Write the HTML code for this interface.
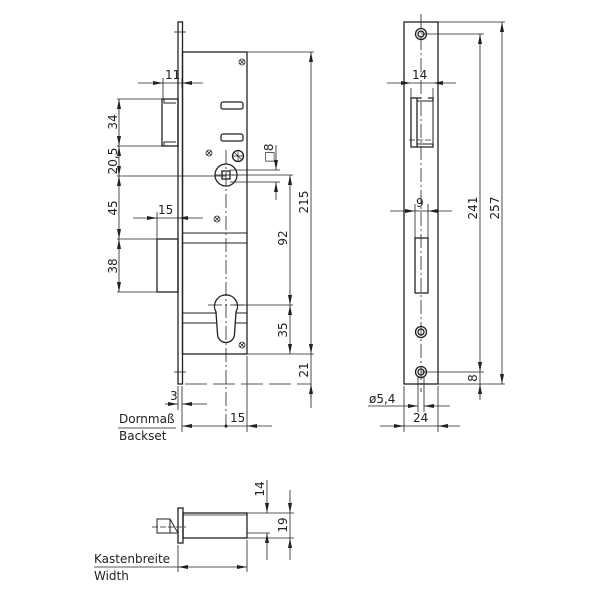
<!DOCTYPE html>
<html><head><meta charset="utf-8"><style>html,body{margin:0;padding:0;background:#fff}svg{display:block}text{font-family:"DejaVu Sans","Liberation Sans",sans-serif;font-size:12px;fill:#222}</style></head><body>
<svg width="600" height="600" viewBox="0 0 600 600" xmlns="http://www.w3.org/2000/svg">
<defs>
<marker id="a" viewBox="0 0 10 6" refX="10" refY="3" markerWidth="10" markerHeight="6" orient="auto-start-reverse" markerUnits="userSpaceOnUse"><path d="M0,1 L10,3 L0,5 z" fill="#222"/></marker>
</defs>
<g stroke="#222" fill="none" stroke-width="1.3">
<rect x="178" y="22" width="4.5" height="362"/>
<rect x="182.5" y="52" width="64.5" height="302"/>
<line x1="174" y1="32" x2="186" y2="32" stroke-width="0.8"/>
<line x1="174" y1="372" x2="186" y2="372" stroke-width="0.8"/>
<rect x="162" y="99" width="16" height="47"/>
<path d="M164,99 V103 H176 M164,146 V142 H176" stroke-width="1"/>
<rect x="157" y="239" width="21" height="53"/>
<path d="M183,233 H247 M183,243 H247 M183,313 H247 M183,323 H247" stroke-width="0.9"/>
<rect x="221" y="102" width="22" height="7" rx="2"/>
<rect x="221" y="134" width="22" height="7" rx="2"/>
<circle cx="226" cy="175" r="11"/>
<rect x="222" y="171" width="8" height="8"/>
<circle cx="238" cy="156" r="5.5"/>
<path d="M233,156 H243 M238,151 V161 M234,152 L242,160" stroke-width="0.7"/>
<path d="M216,312 A11.5,11.5 0 1 1 236,312 L234.5,334 A8.5,8.5 0 0 1 217.5,334 Z" fill="#fff"/>
</g>
<g stroke="#222" fill="none" stroke-width="0.8">
<circle cx="242" cy="62" r="3"/><path d="M240,60 L244,64 M244,60 L240,64"/>
<circle cx="209" cy="153" r="3"/><path d="M207,151 L211,155 M211,151 L207,155"/>
<circle cx="217" cy="219" r="3"/><path d="M215,217 L219,221 M219,217 L215,221"/>
<circle cx="242" cy="345" r="3"/><path d="M240,343 L244,347 M244,343 L240,347"/>
<path d="M226,150 V430 M208,305 H246 M215,175 H238" stroke-dasharray="14,3,2,3"/>
<path d="M185,384 H311" stroke-dasharray="22,6"/>
<path d="M117,99 H163 M117,146 H163 M117,176 H226 M117,239 H157 M117,292 H157"/>
<path d="M247,52 H314 M234,305 H293 M226,175 H293 M230,170 H280 M230,182 H280 M247,354 H314"/>
<path d="M163,78 V99 M182,78 V88 M157,212 V239 M178,212 V224"/>
<path d="M178,386 V410 M182,386 V432 M247,356 V432"/>
<line x1="119" y1="99" x2="119" y2="146" marker-start="url(#a)" marker-end="url(#a)"/>
<line x1="119" y1="146" x2="119" y2="176" marker-start="url(#a)" marker-end="url(#a)"/>
<line x1="119" y1="176" x2="119" y2="239" marker-start="url(#a)" marker-end="url(#a)"/>
<line x1="119" y1="239" x2="119" y2="292" marker-start="url(#a)" marker-end="url(#a)"/>
<line x1="138" y1="83" x2="163" y2="83" marker-end="url(#a)"/><line x1="203" y1="83" x2="182" y2="83" marker-end="url(#a)"/><line x1="163" y1="83" x2="182" y2="83"/>
<line x1="133" y1="218" x2="157" y2="218" marker-end="url(#a)"/><line x1="203" y1="218" x2="178" y2="218" marker-end="url(#a)"/><line x1="157" y1="218" x2="178" y2="218"/>
<line x1="311" y1="52" x2="311" y2="354" marker-start="url(#a)" marker-end="url(#a)"/>
<line x1="311" y1="354" x2="311" y2="408"/><line x1="311" y1="398" x2="311" y2="384" marker-end="url(#a)"/>
<line x1="290" y1="175" x2="290" y2="305" marker-start="url(#a)" marker-end="url(#a)"/>
<line x1="290" y1="305" x2="290" y2="354" marker-start="url(#a)" marker-end="url(#a)"/>
<line x1="276" y1="145" x2="276" y2="170" marker-end="url(#a)"/><line x1="276" y1="200" x2="276" y2="182" marker-end="url(#a)"/>
<line x1="165" y1="404" x2="178" y2="404" marker-end="url(#a)"/><line x1="207" y1="404" x2="182" y2="404" marker-end="url(#a)"/>
<line x1="182" y1="426" x2="226" y2="426" marker-start="url(#a)"/><line x1="226" y1="426" x2="247" y2="426"/><line x1="272" y1="426" x2="247" y2="426" marker-end="url(#a)"/>
<line x1="118" y1="428" x2="176" y2="428"/>
</g>
<circle cx="226" cy="426" r="1.5" fill="#222"/>
<g>
<text x="165" y="79">11</text>
<text x="158" y="214">15</text>
<text x="230" y="422">15</text>
<text x="170" y="400">3</text>
<text transform="translate(117,122) rotate(-90)" text-anchor="middle">34</text>
<text transform="translate(117,161) rotate(-90)" text-anchor="middle">20,5</text>
<text transform="translate(117,208) rotate(-90)" text-anchor="middle">45</text>
<text transform="translate(117,266) rotate(-90)" text-anchor="middle">38</text>
<text transform="translate(308,202) rotate(-90)" text-anchor="middle">215</text>
<text transform="translate(308,370) rotate(-90)" text-anchor="middle">21</text>
<text transform="translate(287,238) rotate(-90)" text-anchor="middle">92</text>
<text transform="translate(287,330) rotate(-90)" text-anchor="middle">35</text>
<text transform="translate(273,153) rotate(-90)" text-anchor="middle">□8</text>
<text x="119" y="423">Dornmaß</text>
<text x="119" y="440">Backset</text>
</g>
<g stroke="#222" fill="none" stroke-width="1.3">
<rect x="404" y="22" width="34" height="362"/>
<rect x="411" y="98" width="6" height="49"/>
<path d="M417,98 V101 H433 V144 H417 M417,101 V144" stroke-width="1"/>
<path d="M417,98 H421 M428,98 H433 V101 M417,147 H433 V144"/>
<rect x="415" y="238" width="13" height="55"/>
<circle cx="421" cy="34" r="5.5"/><circle cx="421" cy="34" r="3"/>
<circle cx="421" cy="332" r="5.5"/><circle cx="421" cy="332" r="3"/>
<circle cx="421" cy="372" r="5.5"/><circle cx="421" cy="372" r="3"/>
</g>
<g stroke="#222" fill="none" stroke-width="0.8">
<path d="M421,14 V392" stroke-dasharray="14,3,2,3"/>
<path d="M409,140 H433" stroke-dasharray="6,2"/>
<path d="M438,22 H505 M421,34 H484 M421,372 H484 M438,384 H505"/>
<path d="M404,75 V88 M438,75 V88 M411,88 V98 M433,88 V98 M404,204 V216 M438,204 V216 M415,204 V238 M428,204 V238"/>
<path d="M404,386 V432 M438,386 V432 M418,377 V412 M424,377 V412"/>
<line x1="387" y1="83" x2="411" y2="83" marker-end="url(#a)"/><line x1="456" y1="83" x2="433" y2="83" marker-end="url(#a)"/><line x1="411" y1="83" x2="433" y2="83"/>
<line x1="390" y1="211" x2="415" y2="211" marker-end="url(#a)"/><line x1="452" y1="211" x2="428" y2="211" marker-end="url(#a)"/><line x1="415" y1="211" x2="428" y2="211"/>
<line x1="480" y1="34" x2="480" y2="372" marker-start="url(#a)" marker-end="url(#a)"/>
<line x1="480" y1="372" x2="480" y2="400"/><line x1="480" y1="396" x2="480" y2="384" marker-end="url(#a)"/>
<line x1="502" y1="22" x2="502" y2="384" marker-start="url(#a)" marker-end="url(#a)"/>
<line x1="368" y1="406" x2="418" y2="406" marker-end="url(#a)"/><line x1="450" y1="406" x2="424" y2="406" marker-end="url(#a)"/>
<line x1="380" y1="426" x2="404" y2="426" marker-end="url(#a)"/><line x1="460" y1="426" x2="438" y2="426" marker-end="url(#a)"/><line x1="404" y1="426" x2="438" y2="426"/>
</g>
<text x="412" y="79">14</text>
<text x="416" y="207">9</text>
<text x="413" y="422">24</text>
<text x="369" y="403">ø5,4</text>
<text transform="translate(477,208) rotate(-90)" text-anchor="middle">241</text>
<text transform="translate(499,208) rotate(-90)" text-anchor="middle">257</text>
<text transform="translate(477,378) rotate(-90)" text-anchor="middle">8</text>
<g stroke="#222" fill="none" stroke-width="1.3">
<rect x="178" y="508" width="5" height="35"/>
<rect x="183" y="513" width="64" height="25"/>
<path d="M157,519 H170 L178,533 H157 Z M170,519 V533" stroke-width="1"/>
</g>
<g stroke="#222" fill="none" stroke-width="0.8">
<path d="M183,515 H247" />
<path d="M152,527 H186" stroke-dasharray="6,2"/>
<path d="M247,513 H294 M247,533 H270 M247,538 H294"/>
<path d="M178,545 V572 M247,540 V572"/>
<line x1="267" y1="480" x2="267" y2="513" marker-end="url(#a)"/><line x1="267" y1="560" x2="267" y2="533" marker-end="url(#a)"/>
<line x1="290" y1="490" x2="290" y2="513" marker-end="url(#a)"/><line x1="290" y1="560" x2="290" y2="538" marker-end="url(#a)"/><line x1="290" y1="513" x2="290" y2="538"/>
<line x1="178" y1="567" x2="247" y2="567" marker-start="url(#a)" marker-end="url(#a)"/>
<line x1="94" y1="567" x2="178" y2="567"/>
</g>
<text transform="translate(264,489) rotate(-90)" text-anchor="middle">14</text>
<text transform="translate(287,525) rotate(-90)" text-anchor="middle">19</text>
<text x="94" y="563">Kastenbreite</text>
<text x="94" y="580">Width</text>
</svg>
</body></html>
